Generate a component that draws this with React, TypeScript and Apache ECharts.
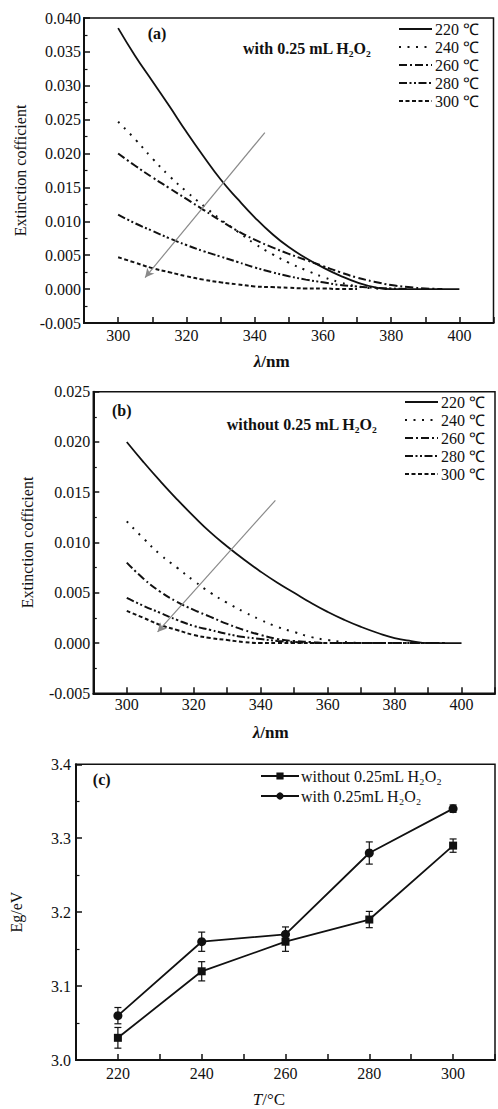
import React, { useEffect, useRef } from 'react';
import * as echarts from 'echarts';

// ---------- data ----------
const wavelengthStart = 300;
const wavelengthStep = 5;
const tempNames = ['220 ℃', '240 ℃', '260 ℃', '280 ℃', '300 ℃'];

// (a) with 0.25 mL H2O2
const a220 = [0.0385, 0.0344, 0.0307, 0.0270, 0.0232, 0.0196, 0.0162, 0.0133, 0.0106, 0.0082, 0.0062, 0.0046, 0.0032, 0.0020, 0.0010, 0.0003, 0, 0, 0, 0, 0];
const a240 = [0.0247, 0.0221, 0.0193, 0.0167, 0.0144, 0.0123, 0.0103, 0.0085, 0.0067, 0.0052, 0.0039, 0.0028, 0.0018, 0.0010, 0.0004, 0.0001, 0];
const a260 = [0.0200, 0.0182, 0.0165, 0.0149, 0.0133, 0.0117, 0.0101, 0.0086, 0.0073, 0.0062, 0.0052, 0.0043, 0.0034, 0.0025, 0.0017, 0.0011, 0.0006, 0.0003, 0.0001, 0];
const a280 = [0.0110, 0.0097, 0.0086, 0.0075, 0.0065, 0.0056, 0.0048, 0.0040, 0.0032, 0.0025, 0.0019, 0.0014, 0.0010, 0.0006, 0.0004, 0.0002, 0.0001, 0];
const a300 = [0.0047, 0.0039, 0.0031, 0.0025, 0.0019, 0.0014, 0.0010, 0.0007, 0.0004, 0.0003, 0.0002, 0.0001, 0.0001, 0, 0];

// (b) without 0.25 mL H2O2
const b220 = [0.0200, 0.0180, 0.0161, 0.0143, 0.0126, 0.0110, 0.0096, 0.0083, 0.0071, 0.0060, 0.0050, 0.0040, 0.0031, 0.0023, 0.0016, 0.0010, 0.0005, 0.0002, 0, 0, 0];
const b240 = [0.0121, 0.0104, 0.0088, 0.0075, 0.0062, 0.0050, 0.0040, 0.0031, 0.0023, 0.0016, 0.0011, 0.0006, 0.0003, 0.0001, 0];
const b260 = [0.0080, 0.0064, 0.0051, 0.0041, 0.0033, 0.0026, 0.0019, 0.0013, 0.0008, 0.0004, 0.0002, 0.0001, 0, 0, 0, 0, 0, 0, 0, 0];
const b280 = [0.0045, 0.0037, 0.0030, 0.0023, 0.0017, 0.0013, 0.0009, 0.0006, 0.0004, 0.0002, 0.0001, 0, 0, 0, 0, 0, 0, 0, 0, 0];
const b300 = [0.0032, 0.0025, 0.0018, 0.0013, 0.0008, 0.0005, 0.0003, 0.0001, 0, 0, 0, 0, 0, 0, 0, 0, 0];

// arrows (data coords: [λ, value])
const arrowA = [[343, 0.0231], [307.9, 0.0017]];
const arrowB = [[344.4, 0.0142], [309.2, 0.0011]];

// (c) band gap
const temps = [220, 240, 260, 280, 300];
const egWithout = [3.03, 3.12, 3.16, 3.19, 3.29];
const errWithout = [0.014, 0.013, 0.013, 0.011, 0.009];
const egWith = [3.06, 3.16, 3.17, 3.28, 3.34];
const errWith = [0.011, 0.013, 0.010, 0.015, 0.005];

// ---------- styles ----------
const FONT = '"Liberation Serif", "Times New Roman", serif';
const INK = '#111';
const dashes: any[] = ['solid', [2, 6.5], [8, 3, 2, 3], [8, 2.5, 2, 2.5, 2, 2.5], [4, 2.5]];

const toPairs = (vals: number[]) => vals.map((v, i) => [wavelengthStart + i * wavelengthStep, v]);

function spectraSeries(sets: number[][], axisIndex: number, arrow: number[][]) {
  return sets.map((vals, i) => {
    const s: any = {
      type: 'line',
      name: tempNames[i],
      xAxisIndex: axisIndex,
      yAxisIndex: axisIndex,
      data: toPairs(vals),
      smooth: 0.5,
      symbol: 'none',
      lineStyle: { color: INK, width: i === 0 ? 1.8 : 2, type: dashes[i] },
      itemStyle: { color: INK },
    };
    if (i === 0) {
      s.markLine = {
        silent: true,
        symbol: ['none', 'arrow'],
        symbolSize: [7, 9],
        label: { show: false },
        lineStyle: { color: '#8a8a8a', width: 1.2, type: 'solid' },
        data: [[{ coord: arrow[0] }, { coord: arrow[1] }]],
      };
    }
    return s;
  });
}

function errorSeries(vals: number[], errs: number[], name: string) {
  return {
    type: 'custom',
    name,
    xAxisIndex: 2,
    yAxisIndex: 2,
    silent: true,
    data: temps.map((t, i) => [t, vals[i] - errs[i], vals[i] + errs[i]]),
    encode: { x: 0, y: [1, 2] },
    renderItem: (params: any, api: any) => {
      const x = api.value(0);
      const lo = api.coord([x, api.value(1)]);
      const hi = api.coord([x, api.value(2)]);
      const w = 3.5;
      const st = { stroke: INK, lineWidth: 1.2 };
      return {
        type: 'group',
        children: [
          { type: 'line', shape: { x1: hi[0], y1: hi[1], x2: lo[0], y2: lo[1] }, style: st },
          { type: 'line', shape: { x1: hi[0] - w, y1: hi[1], x2: hi[0] + w, y2: hi[1] }, style: st },
          { type: 'line', shape: { x1: lo[0] - w, y1: lo[1], x2: lo[0] + w, y2: lo[1] }, style: st },
        ],
      };
    },
  };
}

const tickCommon = {
  axisLine: { show: true, onZero: false, lineStyle: { color: INK, width: 2 } },
  axisTick: { show: true, inside: true, length: 6, lineStyle: { color: INK, width: 1.5 } },
  splitLine: { show: false },
};

function xAxis(gridIndex: number, min: number, max: number, lo: number, hi: number, name: any, nameGap: number, padR: number, margin: number, nameWeight: string) {
  return {
    type: 'value',
    gridIndex,
    min,
    max,
    interval: 10,
    ...tickCommon,
    minorTick: { show: false },
    axisLabel: {
      margin,
      color: INK,
      fontFamily: FONT,
      fontSize: 16,
      formatter: (v: number) => (v % 20 === 0 && v >= lo && v <= hi ? String(v) : ''),
    },
    name,
    nameLocation: 'middle',
    nameGap,
    nameTextStyle: {
      color: INK,
      fontFamily: FONT,
      fontSize: 17,
      fontWeight: nameWeight,
      padding: [0, padR, 0, 0],
      rich: { i: { fontStyle: 'italic', fontFamily: FONT, fontSize: 17, fontWeight: nameWeight, color: INK } },
    },
  };
}

function yAxis(gridIndex: number, min: number, max: number, interval: number, digits: number, name: string, nameGap: number, margin: number) {
  return {
    type: 'value',
    gridIndex,
    min,
    max,
    interval,
    ...tickCommon,
    minorTick: { show: true, splitNumber: 2, length: 3.5, lineStyle: { color: INK, width: 1.2 } },
    axisLabel: {
      margin,
      color: INK,
      fontFamily: FONT,
      fontSize: 16,
      formatter: (v: number) => v.toFixed(digits),
    },
    name,
    nameLocation: 'middle',
    nameGap,
    nameTextStyle: { color: INK, fontFamily: FONT, fontSize: 16 },
  };
}

function legendSpectra(left: number, top: number) {
  return {
    orient: 'vertical',
    left,
    top,
    padding: 0,
    itemWidth: 33,
    itemHeight: 14,
    itemGap: 2,
    selectedMode: false,
    itemStyle: { opacity: 0 },
    textStyle: { color: INK, fontFamily: FONT, fontSize: 16, lineHeight: 16, padding: [0, 0, 0, -2] },
    data: tempNames,
  };
}

function labelText(text: string, x: number, y: number, size: number, weight: string, align = 'left') {
  return {
    type: 'text',
    x,
    y,
    silent: true,
    style: {
      text,
      fill: INK,
      font: `${weight} ${size}px ${FONT}`,
      textAlign: align,
      textVerticalAlign: 'middle',
    },
  };
}

export default function App() {
  const ref = useRef<HTMLDivElement>(null);

  useEffect(() => {
    if (!ref.current) return;
    const chart = echarts.init(ref.current, null, { renderer: 'svg' });
    const option: any = {
      animation: false,
      backgroundColor: '#fff',
      grid: [
        { left: 84, top: 18, width: 409.5, height: 305, show: true, borderColor: INK, borderWidth: 1.5, containLabel: false },
        { left: 93.3, top: 391.7, width: 407.3, height: 301.6, show: true, borderColor: INK, borderWidth: 1.5, containLabel: false },
        { left: 73.3, top: 764.3, width: 436.4, height: 298, show: true, borderColor: INK, borderWidth: 1.5, containLabel: false },
      ],
      xAxis: [
        xAxis(0, 290, 410, 300, 400, '{i|λ}/nm', 30, 34, 4, 'bold'),
        xAxis(1, 290, 410, 300, 400, '{i|λ}/nm', 31, 47, 3, 'bold'),
        xAxis(2, 210, 310, 220, 300, '{i|T}/°C', 31, 33, 5, 'normal'),
      ],
      yAxis: [
        yAxis(0, -0.005, 0.04, 0.005, 3, 'Extinction cofficient', 51, 3),
        yAxis(1, -0.005, 0.025, 0.005, 3, 'Extinction cofficient', 58, 3),
        yAxis(2, 3.0, 3.4, 0.1, 1, 'Eg/eV', 52, 5),
      ],
      legend: [
        legendSpectra(398, 21),
        legendSpectra(404, 394),
        {
          orient: 'vertical',
          left: 260,
          top: 768,
          padding: 0,
          itemWidth: 38,
          itemHeight: 9,
          itemGap: 4,
          selectedMode: false,
          textStyle: { color: INK, fontFamily: FONT, fontSize: 16, lineHeight: 13, padding: [0, 0, 0, -3] },
          data: ['without 0.25mL H₂O₂', 'with 0.25mL H₂O₂'],
        },
      ],
      graphic: [
        labelText('(a)', 157, 33, 16, 'bold', 'center'),
        labelText('with 0.25 mL H₂O₂', 243, 48, 16, 'bold'),
        labelText('(b)', 121.7, 410, 16, 'bold', 'center'),
        labelText('without 0.25 mL H₂O₂', 226.7, 424, 16, 'bold'),
        labelText('(c)', 101.7, 779.3, 16, 'bold', 'center'),
      ],
      series: [
        ...spectraSeries([a220, a240, a260, a280, a300], 0, arrowA),
        ...spectraSeries([b220, b240, b260, b280, b300], 1, arrowB),
        {
          type: 'line',
          name: 'without 0.25mL H₂O₂',
          xAxisIndex: 2,
          yAxisIndex: 2,
          data: temps.map((t, i) => [t, egWithout[i]]),
          symbol: 'rect',
          symbolSize: 8,
          lineStyle: { color: INK, width: 1.8 },
          itemStyle: { color: INK },
          z: 3,
        },
        {
          type: 'line',
          name: 'with 0.25mL H₂O₂',
          xAxisIndex: 2,
          yAxisIndex: 2,
          data: temps.map((t, i) => [t, egWith[i]]),
          symbol: 'circle',
          symbolSize: 9,
          lineStyle: { color: INK, width: 1.8 },
          itemStyle: { color: INK },
          z: 3,
        },
        errorSeries(egWithout, errWithout, 'without error'),
        errorSeries(egWith, errWith, 'with error'),
      ],
    };
    chart.setOption(option);
    return () => chart.dispose();
  }, []);

  return <div ref={ref} style={{ position: 'absolute', left: 0, top: 0, width: 498, height: 1109 }} />;
}
